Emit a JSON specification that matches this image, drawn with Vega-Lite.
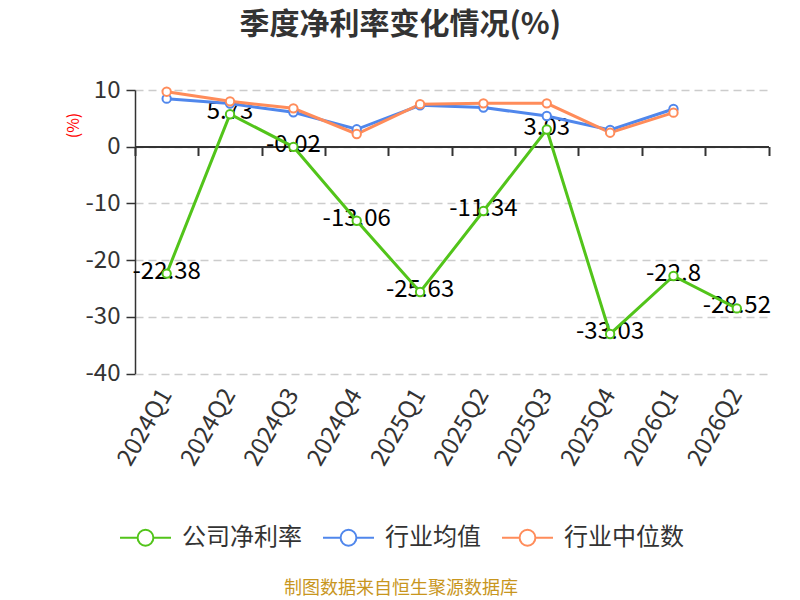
{
  "$schema": "https://vega.github.io/schema/vega-lite/v6.json",
  "autosize": {"type": "none"},
  "width": 633.5,
  "height": 283.5,
  "padding": {"left": 135, "top": 90, "right": 31.5, "bottom": 226.5},
  "background": "#ffffff",
  "view": {"stroke": null},
  "title": {
    "text": "季度净利率变化情况(%)",
    "anchor": "middle",
    "frame": "group",
    "dx": -51.5,
    "offset": 38,
    "font": "Noto Sans CJK SC",
    "fontSize": 30,
    "fontWeight": "bold",
    "color": "#333333"
  },
  "config": {
    "font": "Noto Sans CJK SC",
    "legend": {
      "orient": "none",
      "legendX": -16,
      "legendY": 421,
      "direction": "horizontal",
      "titleOrient": "bottom",
      "titleAnchor": "middle",
      "titleColor": "#c8961e",
      "titleFontSize": 18,
      "titleFontWeight": "normal",
      "titlePadding": 30,
      "titleLimit": 600,
      "labelFontSize": 24,
      "labelColor": "#333333",
      "labelOffset": 10,
      "columnPadding": 17,
      "labelLimit": 300,
      "symbolType": "M-1,0L-0.31,0M0.31,0L1,0M-0.31,0A0.31,0.31 0 1,1 0.31,0A0.31,0.31 0 1,1 -0.31,0Z",
      "symbolSize": 2600,
      "symbolStrokeWidth": 2,
      "symbolFillColor": "#ffffff"
    }
  },
  "data": {
    "values": [
      {"q": "2024Q1", "s": "公司净利率", "v": -22.38},
      {"q": "2024Q2", "s": "公司净利率", "v": 5.73},
      {"q": "2024Q3", "s": "公司净利率", "v": -0.02},
      {"q": "2024Q4", "s": "公司净利率", "v": -13.06},
      {"q": "2025Q1", "s": "公司净利率", "v": -25.63},
      {"q": "2025Q2", "s": "公司净利率", "v": -11.34},
      {"q": "2025Q3", "s": "公司净利率", "v": 3.03},
      {"q": "2025Q4", "s": "公司净利率", "v": -33.03},
      {"q": "2026Q1", "s": "公司净利率", "v": -22.8},
      {"q": "2026Q2", "s": "公司净利率", "v": -28.52},
      {"q": "2024Q1", "s": "行业均值", "v": 8.47},
      {"q": "2024Q2", "s": "行业均值", "v": 7.6},
      {"q": "2024Q3", "s": "行业均值", "v": 6.07},
      {"q": "2024Q4", "s": "行业均值", "v": 3.07},
      {"q": "2025Q1", "s": "行业均值", "v": 7.3},
      {"q": "2025Q2", "s": "行业均值", "v": 6.9},
      {"q": "2025Q3", "s": "行业均值", "v": 5.41},
      {"q": "2025Q4", "s": "行业均值", "v": 2.94},
      {"q": "2026Q1", "s": "行业均值", "v": 6.65},
      {"q": "2024Q1", "s": "行业中位数", "v": 9.7},
      {"q": "2024Q2", "s": "行业中位数", "v": 8.0},
      {"q": "2024Q3", "s": "行业中位数", "v": 6.77},
      {"q": "2024Q4", "s": "行业中位数", "v": 2.24},
      {"q": "2025Q1", "s": "行业中位数", "v": 7.5},
      {"q": "2025Q2", "s": "行业中位数", "v": 7.65},
      {"q": "2025Q3", "s": "行业中位数", "v": 7.65},
      {"q": "2025Q4", "s": "行业中位数", "v": 2.47},
      {"q": "2026Q1", "s": "行业中位数", "v": 6.0}
    ]
  },
  "encoding": {
    "y": {
      "field": "v",
      "type": "quantitative",
      "scale": {"domain": [-40, 10], "nice": false, "zero": false},
      "axis": {
        "title": "(%)",
        "titleColor": "#ff0000",
        "titleFontSize": 16,
        "titleFontWeight": "normal",
        "titleX": -62,
        "titleY": 35,
        "titleAngle": -90,
        "titleAlign": "center",
        "titleBaseline": "middle",
        "values": [-40, -30, -20, -10, 0, 10],
        "labelExpr": "'' + datum.value",
        "labelFontSize": 24,
        "labelColor": "#333333",
        "labelPadding": 6,
        "tickSize": 9,
        "tickColor": "#333333",
        "tickWidth": 1.5,
        "domainColor": "#333333",
        "domainWidth": 1.5,
        "grid": true,
        "gridColor": "#cccccc",
        "gridDash": [8, 5],
        "gridWidth": 1.5
      }
    },
    "stroke": {
      "field": "s",
      "type": "nominal",
      "title": "制图数据来自恒生聚源数据库",
      "scale": {
        "domain": ["公司净利率", "行业均值", "行业中位数"],
        "range": ["#52c41a", "#5087ec", "#ff8c5a"]
      }
    }
  },
  "layer": [
    {
      "transform": [
        {"filter": "datum.s === '公司净利率'"},
        {"calculate": "'' + datum.v", "as": "lab"}
      ],
      "mark": {"type": "text", "fontSize": 24, "color": "#000000", "align": "center", "baseline": "middle", "dy": -2},
      "encoding": {
        "x": {
          "field": "q",
          "type": "nominal",
          "sort": null,
          "scale": {"paddingInner": 0, "paddingOuter": 0},
          "axis": {
            "orient": "bottom",
            "title": null,
            "domain": false,
            "ticks": false,
            "labelAngle": -60,
            "labelFontSize": 24,
            "labelColor": "#333333",
            "labelPadding": 17
          }
        },
        "text": {"field": "lab", "type": "nominal"},
        "stroke": {"value": null}
      }
    },
    {
      "mark": {"type": "line", "strokeWidth": 3},
      "encoding": {
        "x": {"field": "q", "type": "nominal", "sort": null, "axis": null}
      }
    },
    {
      "mark": {"type": "point", "filled": true, "fill": "#ffffff", "size": 70, "strokeWidth": 2, "opacity": 1},
      "encoding": {
        "x": {
          "field": "q",
          "type": "nominal",
          "sort": null,
          "axis": {
            "orient": "bottom",
            "offset": -227,
            "title": null,
            "labels": false,
            "domain": true,
            "domainColor": "#333333",
            "domainWidth": 2,
            "ticks": true,
            "tickBand": "extent",
            "tickSize": 9,
            "tickColor": "#333333",
            "tickWidth": 2,
            "grid": false
          }
        }
      }
    }
  ],
  "resolve": {"axis": {"x": "independent"}, "scale": {"x": "shared"}}
}
